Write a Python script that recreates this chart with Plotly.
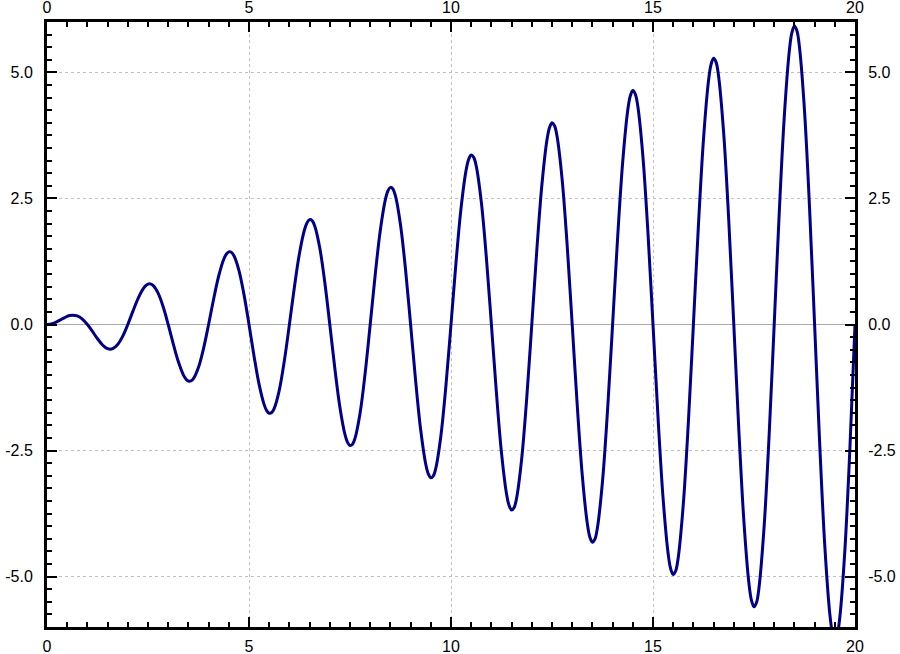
import plotly.graph_objects as go

# curve sampled along each half wave (denser near the turning points),
# values
offsets = [0, 0.125, 0.25, 0.375, 0.4375, 0.5, 0.5625, 0.625, 0.75, 0.875]
xs = [k + o for k in range(20) for o in offsets] + [20]
ys = [
    0.0, 0.015, 0.057, 0.111, 0.137, 0.16, 0.177, 0.185, 0.170, 0.107,
    0.0, -0.138, -0.283, -0.407, -0.451, -0.48, -0.490, -0.480, -0.396, -0.230,
    0.0, 0.260, 0.509, 0.702, 0.765, 0.80, 0.804, 0.776, 0.622, 0.352,
    0.0, -0.383, -0.735, -0.998, -1.079, -1.12, -1.118, -1.072, -0.849, -0.475,
    0.0, 0.505, 0.962, 1.293, 1.393, 1.44, 1.432, 1.367, 1.075, 0.597,
    0.0, -0.628, -1.188, -1.589, -1.707, -1.76, -1.746, -1.663, -1.301, -0.719,
    0.0, 0.750, 1.414, 1.885, 2.020, 2.08, 2.060, 1.959, 1.527, 0.842,
    0.0, -0.873, -1.640, -2.180, -2.334, -2.40, -2.374, -2.254, -1.754, -0.964,
    0.0, 0.995, 1.867, 2.476, 2.648, 2.72, 2.687, 2.550, 1.980, 1.087,
    0.0, -1.117, -2.093, -2.772, -2.962, -3.04, -3.001, -2.846, -2.206, -1.209,
    0.0, 1.240, 2.319, 3.067, 3.276, 3.36, 3.315, 3.141, 2.432, 1.332,
    0.0, -1.362, -2.546, -3.363, -3.590, -3.68, -3.629, -3.437, -2.659, -1.454,
    0.0, 1.485, 2.772, 3.659, 3.904, 4.00, 3.943, 3.733, 2.885, 1.577,
    0.0, -1.607, -2.998, -3.954, -4.218, -4.32, -4.257, -4.028, -3.111, -1.699,
    0.0, 1.730, 3.224, 4.250, 4.531, 4.64, 4.571, 4.324, 3.337, 1.822,
    0.0, -1.852, -3.451, -4.546, -4.845, -4.96, -4.885, -4.620, -3.564, -1.944,
    0.0, 1.975, 3.677, 4.841, 5.159, 5.28, 5.199, 4.915, 3.790, 2.067,
    0.0, -2.097, -3.903, -5.137, -5.473, -5.60, -5.513, -5.211, -4.016, -2.189,
    0.0, 2.220, 4.129, 5.433, 5.787, 5.92, 5.826, 5.506, 4.243, 2.312,
    0.0, -2.342, -4.356, -5.728, -6.101, -6.24, -6.140, -5.802, -4.469, -2.434,
    0.0,
]

x_ticks = [0, 5, 10, 15, 20]
y_ticks = [-5.0, -2.5, 0.0, 2.5, 5.0]
y_tick_text = ["-5.0", "-2.5", "0.0", "2.5", "5.0"]

x_range = [0, 20]
y_range = [-6, 6]

fig = go.Figure()
fig.add_trace(go.Scatter(x=xs, y=ys, mode="lines",
                         line=dict(color="#00008b", width=3, shape="spline", smoothing=1),
                         hoverinfo="skip", showlegend=False))
# invisible trace so the top/right axes get drawn
fig.add_trace(go.Scatter(x=[0], y=[0], xaxis="x2", yaxis="y2", mode="markers",
                         marker=dict(opacity=0), showlegend=False, hoverinfo="skip"))

common = dict(showline=True, linecolor="black", linewidth=3, automargin=False,
              ticks="inside", ticklen=10, tickwidth=2, tickcolor="black",
              tickfont=dict(family="Liberation Sans", size=16, color="black"))

minor_x = dict(dtick=0.5, ticks="inside", ticklen=5, tickwidth=2,
               tickcolor="black", showgrid=False)
minor_y = dict(dtick=0.25, ticks="inside", ticklen=5, tickwidth=2,
               tickcolor="black", showgrid=False)

xtick_opts = dict(tickmode="array", tickvals=x_ticks)
ytick_opts = dict(tickmode="array", tickvals=y_ticks, ticktext=y_tick_text)

fig.update_layout(
    width=900, height=654,
    margin=dict(l=47, r=45, t=22, b=27),
    plot_bgcolor="white", paper_bgcolor="white",
    xaxis=dict(range=x_range, showgrid=True, gridcolor="#c0c0c0",
               griddash="3px,3px", gridwidth=1, zeroline=False,
               ticklabelstandoff=3, minor=minor_x, **xtick_opts, **common),
    yaxis=dict(range=y_range, showgrid=True,
               gridcolor="#c0c0c0", griddash="3px,3px", gridwidth=1,
               zeroline=True, zerolinecolor="#aaaaaa", zerolinewidth=1,
               ticklabelstandoff=8, minor=minor_y, **ytick_opts, **common),
    xaxis2=dict(range=x_range, overlaying="x", side="top",
                showgrid=False, zeroline=False, minor=minor_x,
                **xtick_opts, **common),
    yaxis2=dict(range=y_range, overlaying="y", side="right",
                showgrid=False, zeroline=False, ticklabelstandoff=7,
                minor=minor_y, **ytick_opts, **common),
)

# drop the default body margin so the figure fills the window
fig.write_html("out.html", config={"displayModeBar": False},
               post_script="document.body.style.margin = '0px';")
